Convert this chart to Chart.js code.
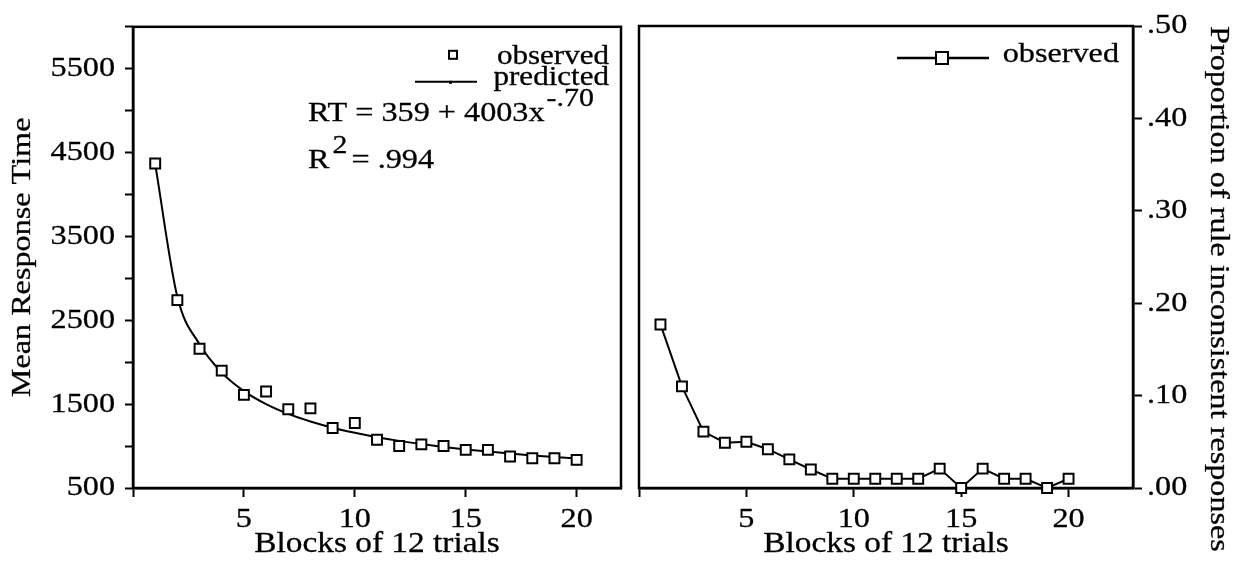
<!DOCTYPE html>
<html>
<head>
<meta charset="utf-8">
<script src="https://cdn.jsdelivr.net/npm/chart.js@4.4.1/dist/chart.umd.min.js"></script>
<style>
  html, body { margin: 0; padding: 0; background: #fff; }
  #wrap { position: relative; width: 1240px; height: 576px; overflow: hidden; }
  #left { position: absolute; left: 0; top: 0; }
  #right { position: absolute; left: 630px; top: 0; }
</style>
</head>
<body>
<div id="wrap">
  <canvas id="left" width="630" height="576"></canvas>
  <canvas id="right" width="610" height="576"></canvas>
</div>
<script>
const blocks = [1, 2, 3, 4, 5, 6, 7, 8, 9, 10, 11, 12, 13, 14, 15, 16, 17, 18, 19, 20];
const observedRT = [4370, 2740, 2160, 1900, 1610, 1650, 1440, 1450, 1215, 1275, 1075, 1000, 1020, 1000, 955, 955, 875, 855, 855, 835];
const predictedRT = [4362, 2780, 2214, 1876, 1656, 1501, 1384, 1293, 1219, 1158, 1106, 1062, 1024, 990, 960, 934, 910, 888, 869, 851];
const inconsistent = [0.177, 0.110, 0.061, 0.049, 0.050, 0.042, 0.031, 0.020, 0.010, 0.010, 0.010, 0.010, 0.010, 0.021, 0.000, 0.021, 0.010, 0.010, 0.000, 0.010];

const rtLabels = [500, 1500, 2500, 3500, 4500, 5500];
const blockLabels = [5, 10, 15, 20];
const proportionLabels = [0, 0.1, 0.2, 0.3, 0.4, 0.5];

const serif = "'Liberation Serif', 'Times New Roman', serif";
const stretch = 1.15;

const qs = (selector) => document.querySelector(selector);

// the scanned figure uses a wide serif face: stretch text along its direction
const widen = (canvas) => {
  const ctx = canvas.getContext('2d');
  const fill = ctx.fillText.bind(ctx);
  const stroke = ctx.strokeText.bind(ctx);
  const measure = ctx.measureText.bind(ctx);
  ctx.fillText = (text, x, y) => {
    ctx.save();
    ctx.translate(x, y);
    ctx.scale(stretch, 1);
    fill(text, 0, 0);
    ctx.strokeStyle = ctx.fillStyle;
    ctx.lineWidth = 0.3;
    stroke(text, 0, 0);
    ctx.restore();
  };
  ctx.measureText = (text) => {
    const m = measure(text);
    return {
      width: m.width * stretch,
      actualBoundingBoxAscent: m.actualBoundingBoxAscent,
      actualBoundingBoxDescent: m.actualBoundingBoxDescent,
      actualBoundingBoxLeft: m.actualBoundingBoxLeft * stretch,
      actualBoundingBoxRight: m.actualBoundingBoxRight * stretch
    };
  };
  return canvas;
};

Chart.defaults.font.family = serif;
Chart.defaults.font.size = 28;
Chart.defaults.color = '#000';

const frame = {
  id: 'frame',
  beforeDatasetsDraw: (chart) => {
    const { ctx, chartArea: a } = chart;
    ctx.save();
    ctx.strokeStyle = '#000';
    ctx.lineWidth = 2.5;
    ctx.strokeRect(a.left, a.top, a.right - a.left, a.bottom - a.top);
    ctx.restore();
  }
};

const leftNotes = {
  id: 'leftNotes',
  afterDraw: (chart) => {
    const { ctx, chartArea: a } = chart;
    ctx.save();
    ctx.fillStyle = '#000';
    ctx.strokeStyle = '#000';
    ctx.textBaseline = 'alphabetic';

    ctx.font = `27px ${serif}`;
    ctx.textAlign = 'right';
    ctx.fillText('observed', a.right - 12, a.top + 37);
    ctx.fillText('predicted', a.right - 12, a.top + 58);

    ctx.lineWidth = 2;
    ctx.fillStyle = '#fff';
    ctx.fillRect(a.left + 316, a.top + 24, 8, 8);
    ctx.strokeRect(a.left + 316, a.top + 24, 8, 8);
    ctx.fillStyle = '#000';

    ctx.beginPath();
    ctx.moveTo(a.left + 282, a.top + 55);
    ctx.lineTo(a.left + 344, a.top + 55);
    ctx.stroke();
    ctx.fillRect(a.left + 316, a.top + 54, 3, 3);

    ctx.textAlign = 'left';
    const eq = 'RT = 359 + 4003x';
    const ex = a.left + 175;
    ctx.font = `28px ${serif}`;
    ctx.fillText(eq, ex, a.top + 94);
    const eqWidth = ctx.measureText(eq).width;
    ctx.font = `26px ${serif}`;
    ctx.fillText('-.70', ex + eqWidth + 2, a.top + 79);

    ctx.font = `28px ${serif}`;
    ctx.fillText('R', ex, a.top + 141);
    const rWidth = ctx.measureText('R').width;
    ctx.font = `26px ${serif}`;
    ctx.fillText('2', ex + rWidth + 3, a.top + 126);
    const twoWidth = ctx.measureText('2').width;
    ctx.font = `28px ${serif}`;
    ctx.fillText('= .994', ex + rWidth + twoWidth + 7, a.top + 141);
    ctx.restore();
  }
};

const rightNotes = {
  id: 'rightNotes',
  afterDraw: (chart) => {
    const { ctx, chartArea: a } = chart;
    ctx.save();
    ctx.strokeStyle = '#000';
    ctx.lineWidth = 2.5;
    ctx.beginPath();
    ctx.moveTo(a.left + 258, a.top + 32);
    ctx.lineTo(a.left + 350, a.top + 32);
    ctx.stroke();
    ctx.fillStyle = '#fff';
    ctx.lineWidth = 2;
    ctx.fillRect(a.left + 297, a.top + 26, 12, 12);
    ctx.strokeRect(a.left + 297, a.top + 26, 12, 12);
    ctx.fillStyle = '#000';
    ctx.font = `28px ${serif}`;
    ctx.textAlign = 'right';
    ctx.textBaseline = 'alphabetic';
    ctx.fillText('observed', a.right - 14, a.top + 36);
    ctx.restore();
  }
};

const axisStyle = {
  border: { color: '#000', width: 2.5 },
  grid: { drawOnChartArea: false, color: '#000', tickWidth: 2 }
};

const blockAxis = (max) => ({
  type: 'linear',
  min: 0,
  max: max,
  afterFit: (s) => { s.height = 88; },
  border: axisStyle.border,
  grid: { ...axisStyle.grid, tickLength: 9 },
  ticks: {
    stepSize: 5,
    includeBounds: false,
    autoSkip: false,
    maxRotation: 0,
    padding: 6,
    callback: (v) => blockLabels.includes(v) ? String(v) : ''
  },
  title: {
    display: true,
    text: 'Blocks of 12 trials',
    font: { size: 29 },
    padding: { top: 0, bottom: 14 }
  }
});

new Chart(widen(qs('#left')), {
  type: 'line',
  data: {
    datasets: [
      {
        label: 'observed',
        data: blocks.map((b, i) => ({ x: b, y: observedRT[i] })),
        showLine: false,
        pointStyle: 'rect',
        pointRadius: 7,
        pointBorderWidth: 2,
        pointBackgroundColor: '#fff',
        pointBorderColor: '#000',
        clip: false
      },
      {
        label: 'predicted',
        data: blocks.map((b, i) => ({ x: b, y: predictedRT[i] })),
        borderColor: '#000',
        borderWidth: 2,
        pointRadius: 0,
        cubicInterpolationMode: 'monotone',
        clip: false
      }
    ]
  },
  options: {
    responsive: false,
    animation: false,
    devicePixelRatio: 1,
    layout: { padding: { left: 0, top: 26, right: 5, bottom: 0 } },
    plugins: { legend: { display: false }, tooltip: { enabled: false } },
    scales: {
      x: blockAxis(22),
      y: {
        min: 500,
        max: 6000,
        afterFit: (s) => { s.width = 133; },
        border: axisStyle.border,
        grid: { ...axisStyle.grid, tickLength: 8 },
        ticks: {
          stepSize: 500,
          autoSkip: false,
          padding: 10,
          callback: (v) => rtLabels.includes(v) ? String(v) : ''
        },
        title: {
          display: true,
          text: 'Mean Response Time',
          font: { size: 28 },
          padding: { top: 6, bottom: 0 }
        }
      }
    }
  },
  plugins: [frame, leftNotes]
});

new Chart(widen(qs('#right')), {
  type: 'line',
  data: {
    datasets: [
      {
        label: 'observed',
        data: blocks.map((b, i) => ({ x: b, y: inconsistent[i] })),
        borderColor: '#000',
        borderWidth: 2,
        pointStyle: 'rect',
        pointRadius: 7,
        pointBorderWidth: 2,
        pointBackgroundColor: '#fff',
        pointBorderColor: '#000',
        tension: 0,
        clip: false
      }
    ]
  },
  options: {
    responsive: false,
    animation: false,
    devicePixelRatio: 1,
    layout: { padding: { left: 5, top: 26, right: 0, bottom: 0 } },
    plugins: { legend: { display: false }, tooltip: { enabled: false } },
    scales: {
      x: blockAxis(23),
      y: {
        position: 'right',
        min: 0,
        max: 0.5,
        afterFit: (s) => { s.width = 107; },
        border: axisStyle.border,
        grid: { ...axisStyle.grid, tickLength: 9 },
        ticks: {
          stepSize: 0.1,
          autoSkip: false,
          padding: 5,
          callback: (v) => {
            const p = proportionLabels.find((l) => Math.abs(l - v) < 1e-6);
            return p === undefined ? '' : p.toFixed(2).replace(/^0/, '');
          }
        },
        title: {
          display: true,
          text: 'Proportion of rule inconsistent responses',
          align: 'end',
          font: { size: 28 },
          padding: { top: 5, bottom: 0 }
        }
      }
    }
  },
  plugins: [frame, rightNotes]
});
</script>
</body>
</html>
